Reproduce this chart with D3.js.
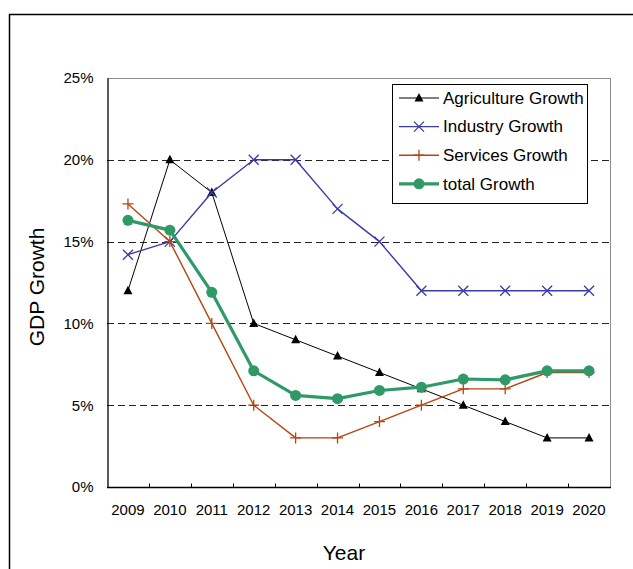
<!DOCTYPE html>
<html>
<head>
<meta charset="utf-8">
<script src="https://cdn.jsdelivr.net/npm/d3@7"></script>
<style>
  html, body { margin: 0; padding: 0; background: #fff; }
  svg { display: block; font-family: "Liberation Sans", Arial, sans-serif; }
</style>
</head>
<body>
<svg id="chart" width="633" height="569"></svg>
<script>
// GDP growth by sector, 2009–2020 (percent)
const years = ["2009","2010","2011","2012","2013","2014","2015","2016","2017","2018","2019","2020"];
const agriculture = [12, 20, 18, 10, 9, 8, 7, 6, 5, 4, 3, 3];
const industry    = [14.2, 15, 18, 20, 20, 17, 15, 12, 12, 12, 12, 12];
const services    = [17.3, 15, 10, 5, 3, 3, 4, 5, 6, 6, 7, 7];
const total       = [16.3, 15.7, 11.9, 7.1, 5.6, 5.4, 5.9, 6.1, 6.6, 6.55, 7.1, 7.1];
const yTicks = [0, 5, 10, 15, 20, 25];
const seriesNames = ["Agriculture Growth", "Industry Growth", "Services Growth", "total Growth"];

const svg = d3.select("#chart");
const plot = { left: 107, top: 78, right: 610, bottom: 487 };

const x = d3.scaleBand().domain(years).range([plot.left, plot.right]).padding(0);
const y = d3.scaleLinear().domain([0, 25]).range([plot.bottom, plot.top]);
const cx = d => x(d) + x.bandwidth() / 2;

// outer chart frame (extends past the window on the right and bottom)
svg.append("path")
  .attr("d", "M9.5,700 V14.5 H700")
  .attr("fill", "none").attr("stroke", "#000").attr("stroke-width", 1.5);

// dashed gridlines
svg.append("g").selectAll("line")
  .data(yTicks.filter(t => t > 0 && t < 25))
  .join("line")
  .attr("x1", plot.left).attr("x2", plot.right)
  .attr("y1", d => Math.round(y(d)) + 0.5).attr("y2", d => Math.round(y(d)) + 0.5)
  .attr("stroke", "#222").attr("stroke-width", 1).attr("stroke-dasharray", "7,4");

// plot area border (top and right)
svg.append("path")
  .attr("d", `M${plot.left},${plot.top + 0.5} H${plot.right + 0.5} V${plot.bottom}`)
  .attr("fill", "none").attr("stroke", "#8a8a8a").attr("stroke-width", 1);

// y axis
const yAxis = svg.append("g")
  .attr("transform", `translate(${plot.left + 0.5},0)`)
  .call(d3.axisLeft(y).tickValues(yTicks).tickFormat(d => d + "%").tickSize(0).tickPadding(14));
yAxis.select(".domain").attr("stroke", "#000").attr("stroke-width", 1.3);
yAxis.selectAll("text").attr("font-size", 15).attr("fill", "#000")
  .attr("font-family", "Liberation Sans, Arial, sans-serif");

// x axis with inward ticks at category boundaries
const xAxisG = svg.append("g").attr("transform", `translate(0,${plot.bottom + 0.5})`);
xAxisG.append("line")
  .attr("x1", plot.left).attr("x2", plot.right + 1)
  .attr("stroke", "#000").attr("stroke-width", 1.3);
xAxisG.selectAll("line.tick")
  .data(years.slice(1))
  .join("line").attr("class", "tick")
  .attr("x1", d => Math.round(x(d)) + 0.5).attr("x2", d => Math.round(x(d)) + 0.5)
  .attr("y1", 0).attr("y2", -4)
  .attr("stroke", "#000").attr("stroke-width", 1);
xAxisG.selectAll("text")
  .data(years)
  .join("text")
  .attr("x", d => cx(d)).attr("y", 27)
  .attr("text-anchor", "middle").attr("font-size", 15).attr("fill", "#000")
  .text(d => d);

// axis titles
svg.append("text")
  .attr("transform", `translate(44,287) rotate(-90)`)
  .attr("text-anchor", "middle").attr("font-size", 21).attr("fill", "#000")
  .text("GDP Growth");
svg.append("text")
  .attr("x", 344).attr("y", 560)
  .attr("text-anchor", "middle").attr("font-size", 21).attr("fill", "#000")
  .text("Year");

// series styles
const series = [
  { name: seriesNames[0], values: agriculture, color: "#000000", width: 1, marker: "triangle" },
  { name: seriesNames[1], values: industry,    color: "#3a3aa8", width: 1.4, marker: "x" },
  { name: seriesNames[2], values: services,    color: "#b5450f", width: 1.4, marker: "plus" },
  { name: seriesNames[3], values: total,       color: "#2f9a68", width: 3.2, marker: "circle" }
];

function drawMarker(g, type, color) {
  if (type === "triangle") {
    g.append("path").attr("d", "M0,-5 L4.5,3.5 L-4.5,3.5 Z").attr("fill", color);
  } else if (type === "x") {
    g.append("path").attr("d", "M-5,-5 L5,5 M-5,5 L5,-5")
      .attr("stroke", color).attr("stroke-width", 1.3).attr("fill", "none");
  } else if (type === "plus") {
    g.append("path").attr("d", "M-5.5,0 H5.5 M0,-5.5 V5.5")
      .attr("stroke", color).attr("stroke-width", 1.3).attr("fill", "none");
  } else if (type === "circle") {
    g.append("circle").attr("r", 5.5).attr("fill", color);
  }
}

const line = d3.line().x((d, i) => cx(years[i])).y(d => y(d));

series.forEach(s => {
  const g = svg.append("g");
  g.append("path").datum(s.values)
    .attr("d", line)
    .attr("fill", "none").attr("stroke", s.color).attr("stroke-width", s.width)
    .attr("stroke-linejoin", "round");
  s.values.forEach((v, i) => {
    const m = g.append("g").attr("transform", `translate(${cx(years[i])},${y(v)})`);
    drawMarker(m, s.marker, s.color);
  });
});

// legend
const legend = svg.append("g");
legend.append("rect")
  .attr("x", 392.5).attr("y", 84.5).attr("width", 195).attr("height", 119)
  .attr("fill", "#fff").attr("stroke", "#000").attr("stroke-width", 1);
series.forEach((s, i) => {
  const ly = 98 + i * 28.6;
  const row = legend.append("g").attr("transform", `translate(0,${ly})`);
  row.append("line").attr("x1", 399).attr("x2", 439).attr("y1", 0).attr("y2", 0)
    .attr("stroke", s.color).attr("stroke-width", s.width);
  const m = row.append("g").attr("transform", "translate(419,0)");
  drawMarker(m, s.marker, s.color);
  row.append("text").attr("x", 443).attr("y", 5.8)
    .attr("font-size", 17).attr("fill", "#000").text(s.name);
});
</script>
</body>
</html>
